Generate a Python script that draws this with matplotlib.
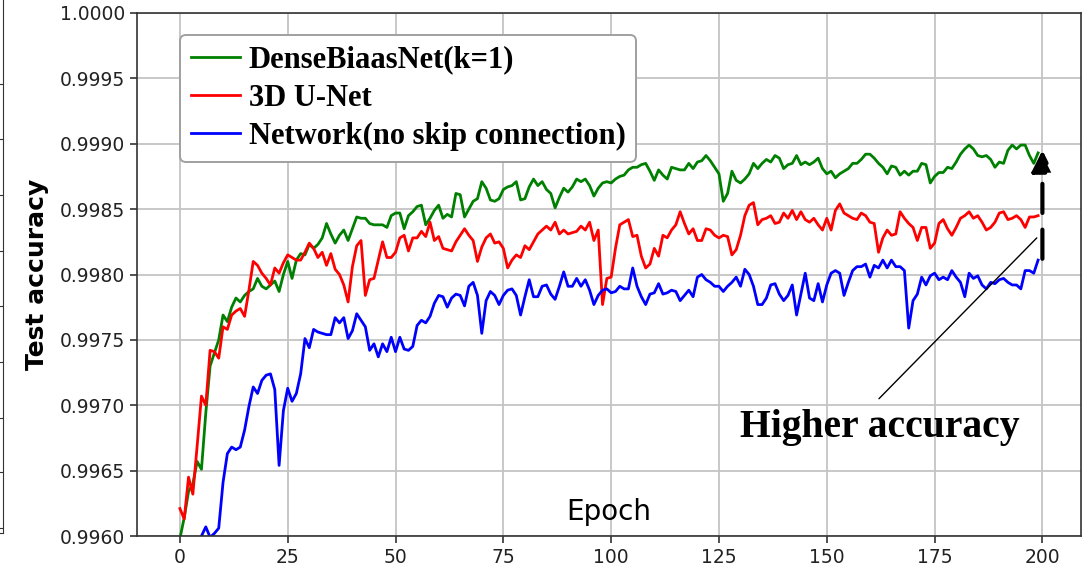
import matplotlib
matplotlib.use("Agg")
import matplotlib.pyplot as plt
from matplotlib.ticker import FormatStrFormatter

# test accuracy per epoch
dense_acc = [
    0.99598, 0.99614, 0.99634, 0.99640, 0.99657, 0.99651, 0.99694, 0.99730, 0.99740, 0.99750,
    0.99769, 0.99764, 0.99775, 0.99782, 0.99779, 0.99784, 0.99787, 0.99789, 0.99797, 0.99791,
    0.99789, 0.99792, 0.99795, 0.99787, 0.99800, 0.99810, 0.99797, 0.99811, 0.99816, 0.99815,
    0.99823, 0.99820, 0.99823, 0.99828, 0.99839, 0.99831, 0.99824, 0.99830, 0.99834, 0.99826,
    0.99835, 0.99844, 0.99843, 0.99843, 0.99839, 0.99838, 0.99838, 0.99838, 0.99836, 0.99845,
    0.99847, 0.99847, 0.99835, 0.99845, 0.99848, 0.99852, 0.99853, 0.99838, 0.99843, 0.99849,
    0.99853, 0.99843, 0.99846, 0.99844, 0.99862, 0.99861, 0.99844, 0.99850, 0.99856, 0.99858,
    0.99871, 0.99866, 0.99857, 0.99856, 0.99858, 0.99865, 0.99867, 0.99868, 0.99871, 0.99857,
    0.99858, 0.99867, 0.99873, 0.99868, 0.99871, 0.99865, 0.99862, 0.99851, 0.99859, 0.99866,
    0.99863, 0.99867, 0.99873, 0.99871, 0.99873, 0.99868, 0.99860, 0.99866, 0.99870, 0.99871,
    0.99870, 0.99873, 0.99875, 0.99876, 0.99880, 0.99882, 0.99882, 0.99884, 0.99885, 0.99879,
    0.99872, 0.99880, 0.99876, 0.99873, 0.99882, 0.99881, 0.99880, 0.99880, 0.99885, 0.99881,
    0.99886, 0.99887, 0.99891, 0.99887, 0.99882, 0.99877, 0.99856, 0.99862, 0.99879, 0.99872,
    0.99870, 0.99873, 0.99877, 0.99885, 0.99881, 0.99885, 0.99888, 0.99886, 0.99891, 0.99889,
    0.99881, 0.99884, 0.99885, 0.99891, 0.99884, 0.99886, 0.99884, 0.99886, 0.99889, 0.99881,
    0.99877, 0.99879, 0.99874, 0.99877, 0.99879, 0.99881, 0.99885, 0.99885, 0.99888, 0.99892,
    0.99892, 0.99889, 0.99885, 0.99882, 0.99877, 0.99883, 0.99882, 0.99876, 0.99879, 0.99876,
    0.99879, 0.99879, 0.99885, 0.99884, 0.99870, 0.99875, 0.99878, 0.99878, 0.99882, 0.99881,
    0.99886, 0.99892, 0.99896, 0.99899, 0.99896, 0.99891, 0.99890, 0.99891, 0.99888, 0.99882,
    0.99886, 0.99885, 0.99895, 0.99899, 0.99896, 0.99899, 0.99899, 0.99891, 0.99885, 0.99893,
]

unet_acc = [
    0.99621, 0.99613, 0.99645, 0.99632, 0.99669, 0.99707, 0.99700, 0.99742, 0.99741, 0.99736,
    0.99760, 0.99758, 0.99769, 0.99772, 0.99774, 0.99768, 0.99788, 0.99810, 0.99807, 0.99801,
    0.99797, 0.99792, 0.99805, 0.99801, 0.99809, 0.99815, 0.99813, 0.99811, 0.99811, 0.99817,
    0.99824, 0.99820, 0.99813, 0.99817, 0.99807, 0.99816, 0.99804, 0.99800, 0.99792, 0.99779,
    0.99806, 0.99822, 0.99826, 0.99784, 0.99796, 0.99797, 0.99811, 0.99825, 0.99813, 0.99813,
    0.99817, 0.99828, 0.99830, 0.99818, 0.99828, 0.99828, 0.99833, 0.99829, 0.99840, 0.99826,
    0.99829, 0.99820, 0.99819, 0.99818, 0.99825, 0.99830, 0.99835, 0.99830, 0.99826, 0.99810,
    0.99821, 0.99828, 0.99831, 0.99824, 0.99825, 0.99820, 0.99805, 0.99811, 0.99815, 0.99813,
    0.99822, 0.99819, 0.99825, 0.99831, 0.99834, 0.99837, 0.99834, 0.99840, 0.99831, 0.99834,
    0.99831, 0.99832, 0.99833, 0.99837, 0.99834, 0.99840, 0.99826, 0.99834, 0.99777, 0.99797,
    0.99798, 0.99820, 0.99838, 0.99840, 0.99842, 0.99829, 0.99830, 0.99814, 0.99805, 0.99808,
    0.99820, 0.99814, 0.99830, 0.99828, 0.99834, 0.99838, 0.99848, 0.99839, 0.99831, 0.99835,
    0.99826, 0.99826, 0.99835, 0.99834, 0.99830, 0.99828, 0.99830, 0.99829, 0.99815, 0.99819,
    0.99830, 0.99845, 0.99853, 0.99855, 0.99838, 0.99842, 0.99843, 0.99845, 0.99839, 0.99840,
    0.99847, 0.99843, 0.99849, 0.99842, 0.99848, 0.99842, 0.99840, 0.99843, 0.99838, 0.99834,
    0.99843, 0.99834, 0.99849, 0.99854, 0.99847, 0.99845, 0.99843, 0.99842, 0.99847, 0.99845,
    0.99840, 0.99839, 0.99817, 0.99828, 0.99834, 0.99830, 0.99831, 0.99848, 0.99843, 0.99839,
    0.99836, 0.99826, 0.99836, 0.99836, 0.99820, 0.99824, 0.99839, 0.99842, 0.99835, 0.99830,
    0.99836, 0.99843, 0.99845, 0.99848, 0.99843, 0.99845, 0.99840, 0.99834, 0.99836, 0.99840,
    0.99847, 0.99848, 0.99842, 0.99843, 0.99845, 0.99842, 0.99836, 0.99844, 0.99844, 0.99845,
]

noskip_acc = [
    0.99550, 0.99555, 0.99565, 0.99575, 0.99585, 0.99600, 0.99607, 0.99599, 0.99602, 0.99606,
    0.99641, 0.99663, 0.99668, 0.99666, 0.99668, 0.99681, 0.99699, 0.99714, 0.99709, 0.99719,
    0.99723, 0.99724, 0.99712, 0.99654, 0.99696, 0.99713, 0.99703, 0.99709, 0.99724, 0.99751,
    0.99744, 0.99758, 0.99756, 0.99755, 0.99754, 0.99754, 0.99767, 0.99763, 0.99767, 0.99751,
    0.99757, 0.99770, 0.99765, 0.99760, 0.99742, 0.99747, 0.99737, 0.99747, 0.99741, 0.99752,
    0.99741, 0.99752, 0.99743, 0.99742, 0.99745, 0.99761, 0.99765, 0.99763, 0.99768, 0.99778,
    0.99784, 0.99783, 0.99775, 0.99782, 0.99785, 0.99784, 0.99776, 0.99791, 0.99794, 0.99784,
    0.99755, 0.99780, 0.99787, 0.99784, 0.99777, 0.99784, 0.99788, 0.99789, 0.99784, 0.99769,
    0.99783, 0.99796, 0.99783, 0.99783, 0.99791, 0.99792, 0.99785, 0.99781, 0.99791, 0.99802,
    0.99791, 0.99791, 0.99797, 0.99791, 0.99796, 0.99788, 0.99777, 0.99784, 0.99788, 0.99789,
    0.99786, 0.99787, 0.99791, 0.99789, 0.99789, 0.99805, 0.99791, 0.99783, 0.99777, 0.99785,
    0.99786, 0.99793, 0.99785, 0.99786, 0.99788, 0.99787, 0.99780, 0.99784, 0.99788, 0.99783,
    0.99798, 0.99800, 0.99796, 0.99794, 0.99791, 0.99791, 0.99787, 0.99791, 0.99794, 0.99798,
    0.99791, 0.99804, 0.99800, 0.99791, 0.99777, 0.99777, 0.99782, 0.99792, 0.99793, 0.99785,
    0.99780, 0.99784, 0.99792, 0.99769, 0.99785, 0.99801, 0.99782, 0.99780, 0.99793, 0.99779,
    0.99792, 0.99801, 0.99803, 0.99801, 0.99784, 0.99794, 0.99803, 0.99806, 0.99806, 0.99808,
    0.99798, 0.99807, 0.99805, 0.99811, 0.99805, 0.99811, 0.99806, 0.99806, 0.99803, 0.99759,
    0.99780, 0.99785, 0.99798, 0.99792, 0.99799, 0.99801, 0.99796, 0.99798, 0.99796, 0.99803,
    0.99798, 0.99794, 0.99783, 0.99801, 0.99797, 0.99799, 0.99792, 0.99789, 0.99794, 0.99793,
    0.99796, 0.99797, 0.99794, 0.99792, 0.99792, 0.99789, 0.99803, 0.99803, 0.99801, 0.99811,
]

epochs = list(range(len(dense_acc)))
labels = ["DenseBiaasNet(k=1)", "3D U-Net", "Network(no skip connection)"]
x_ticks = [0, 25, 50, 75, 100, 125, 150, 175, 200]

fig = plt.figure(figsize=(10.86, 5.67), dpi=100)
ax = fig.add_axes([137 / 1086, 1 - 536 / 567, 944 / 1086, 523 / 567])

ax.plot(epochs, dense_acc, color="green", lw=2, label=labels[0])
ax.plot(epochs, unet_acc, color="red", lw=2, label=labels[1])
ax.plot(epochs, noskip_acc, color="blue", lw=2, label=labels[2])

ax.set_ylim(0.996, 1.0)
ax.set_xticks(x_ticks)
ax.yaxis.set_major_formatter(FormatStrFormatter("%.4f"))
ax.tick_params(labelsize=13.5, colors="#222222", length=5, width=1.1)
ax.grid(True, color="#c4c4c4", lw=1.3)
for sp in ax.spines.values():
    sp.set_color("#333333")
    sp.set_linewidth(1.2)

ax.set_ylabel("Test accuracy", fontsize=18, weight="bold", labelpad=8)
ax.text(0.5, 0.045, "Epoch", transform=ax.transAxes, ha="center", va="center", fontsize=20)

leg = ax.legend(loc="upper left", bbox_to_anchor=(180 / 1086, 1 - 35 / 567),
                bbox_transform=fig.transFigure, borderaxespad=0,
                prop={"family": "Liberation Serif", "weight": "bold", "size": 22},
                handlelength=1.6, handletextpad=0.3, labelspacing=0.3,
                borderpad=0.35, fancybox=True, framealpha=1, edgecolor="#a0a0a0")
leg.get_frame().set_linewidth(1.4)

# dashed arrow showing the gain at the last epoch
ax.annotate("", xy=(200, 0.99895), xytext=(200, 0.99812),
            arrowprops=dict(arrowstyle="-|>", color="black", lw=3,
                            linestyle=(0, (7, 4)), mutation_scale=32,
                            shrinkA=0, shrinkB=0))
ax.annotate("", xy=(198.7, 0.99828), xytext=(162.1, 0.99705),
            arrowprops=dict(arrowstyle="-", color="black", lw=1, shrinkA=0, shrinkB=0))
ax.text(129.8, 0.99676, "Higher accuracy", family="Liberation Serif", weight="bold",
        fontsize=28.5, ha="left", va="baseline")

# edge of the neighbouring panel, cut off at the left
side = fig.add_axes([-0.05, 1 - 533 / 567, 0.05 + 3 / 1086, 533 / 567 + 0.05])
side.set_xticks([])
side.set_ylim(0, 593)
side.set_yticks([5, 64, 122, 181, 240, 298, 357, 416, 474])
side.yaxis.tick_right()
side.tick_params(axis="y", direction="in", labelright=False, length=6, colors="#333333")
side.spines["left"].set_visible(False)
side.spines["top"].set_visible(False)
for s in ("right", "bottom"):
    side.spines[s].set_color("#333333")

fig.savefig("out.png", dpi=100)
